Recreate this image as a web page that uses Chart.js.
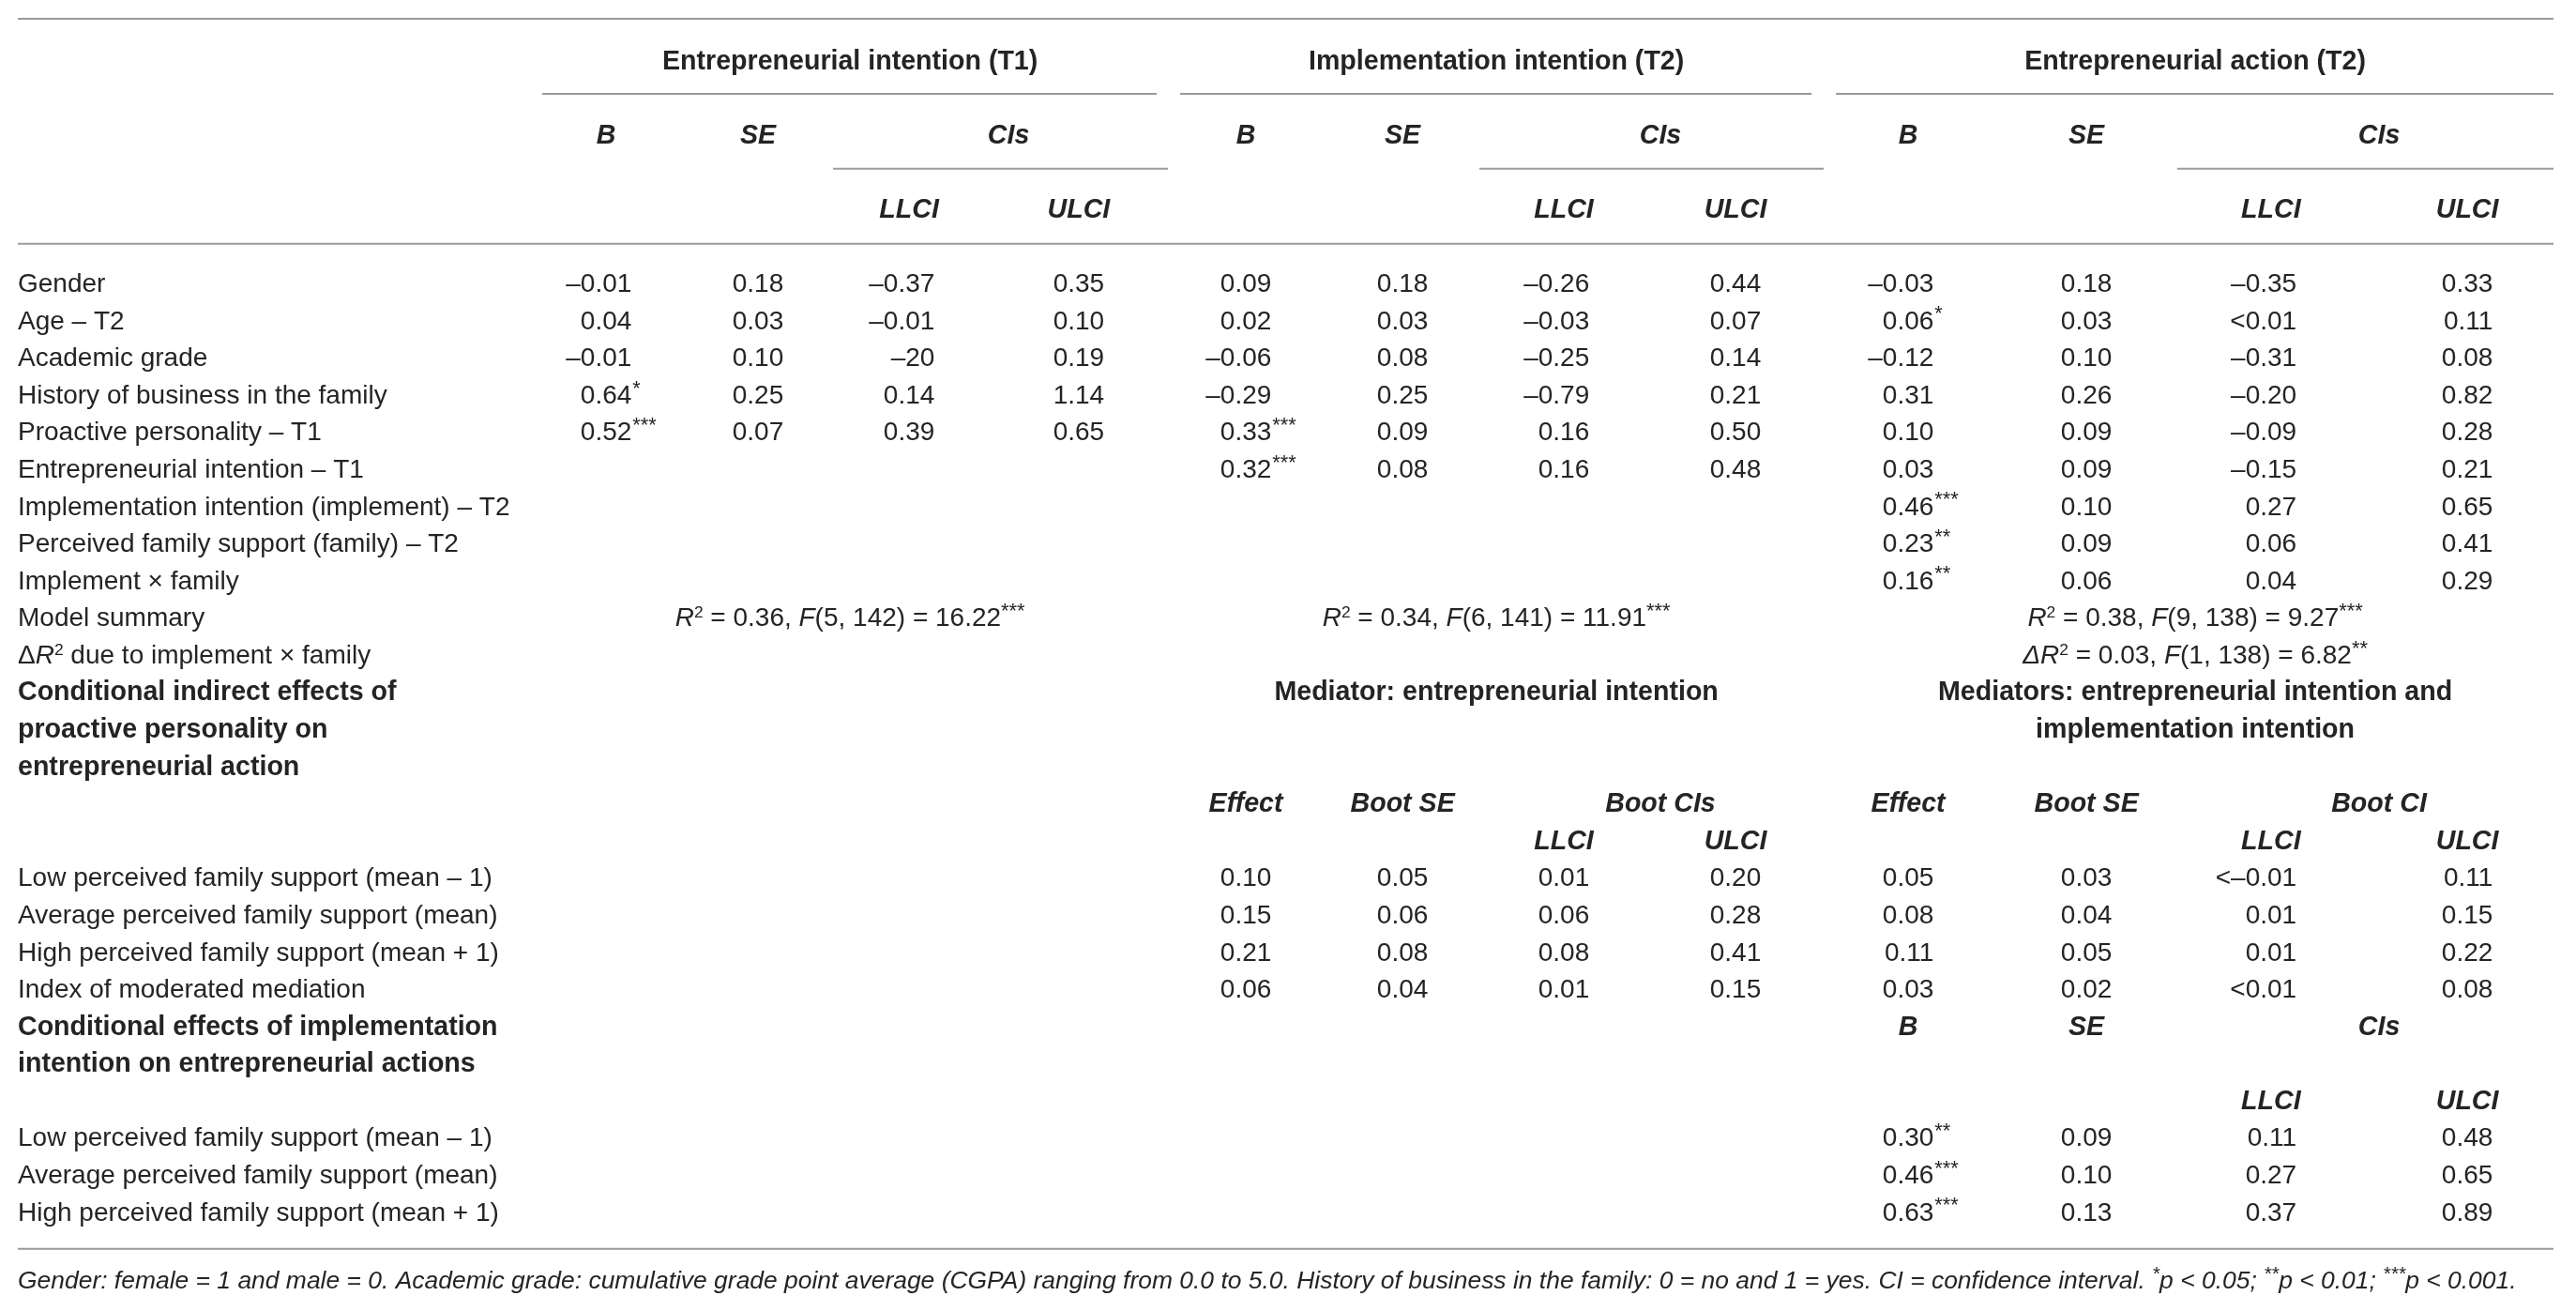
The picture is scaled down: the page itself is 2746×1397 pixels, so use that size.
<!DOCTYPE html>
<html>
<head>
<meta charset="utf-8">
<title>Moderated mediation table</title>
<script src="https://cdn.jsdelivr.net/npm/chart.js@4.4.1/dist/chart.umd.min.js"></script>
<style>
  html, body { margin: 0; padding: 0; background: #fff; }
  #wrap { width: 2746px; height: 1397px; position: relative; }
</style>
</head>
<body>
<div id="wrap"><canvas id="tabela"></canvas></div>
<script>
// ---- table contents ----
const groupTitles = ['Entrepreneurial intention (T1)', 'Implementation intention (T2)', 'Entrepreneurial action (T2)'];
const coefHeads = ['B', 'SE'];
const ciHead = 'CIs';
const ciCols = ['LLCI', 'ULCI'];

const predictors = [
  'Gender', 'Age – T2', 'Academic grade', 'History of business in the family',
  'Proactive personality – T1', 'Entrepreneurial intention – T1',
  'Implementation intention (implement) – T2', 'Perceived family support (family) – T2',
  'Implement × family', 'Model summary', 'Δ_R_^2^ due to implement × family'
];

const intentB  = ['–0.01', '0.04', '–0.01', '0.64*', '0.52***'];
const intentSE = ['0.18', '0.03', '0.10', '0.25', '0.07'];
const intentLL = ['–0.37', '–0.01', '–20', '0.14', '0.39'];
const intentUL = ['0.35', '0.10', '0.19', '1.14', '0.65'];

const implB  = ['0.09', '0.02', '–0.06', '–0.29', '0.33***', '0.32***'];
const implSE = ['0.18', '0.03', '0.08', '0.25', '0.09', '0.08'];
const implLL = ['–0.26', '–0.03', '–0.25', '–0.79', '0.16', '0.16'];
const implUL = ['0.44', '0.07', '0.14', '0.21', '0.50', '0.48'];

const actB  = ['–0.03', '0.06*', '–0.12', '0.31', '0.10', '0.03', '0.46***', '0.23**', '0.16**'];
const actSE = ['0.18', '0.03', '0.10', '0.26', '0.09', '0.09', '0.10', '0.09', '0.06'];
const actLL = ['–0.35', '<0.01', '–0.31', '–0.20', '–0.09', '–0.15', '0.27', '0.06', '0.04'];
const actUL = ['0.33', '0.11', '0.08', '0.82', '0.28', '0.21', '0.65', '0.41', '0.29'];

const modelSummary = [
  '_R_^2^ = 0.36, _F_(5, 142) = 16.22^***^',
  '_R_^2^ = 0.34, _F_(6, 141) = 11.91^***^',
  '_R_^2^ = 0.38, _F_(9, 138) = 9.27^***^'
];
const deltaR2 = '_ΔR_^2^ = 0.03, _F_(1, 138) = 6.82^**^';

const indirectTitle = ['Conditional indirect effects of', 'proactive personality on', 'entrepreneurial action'];
const mediatorTitles = [
  ['Mediator: entrepreneurial intention'],
  ['Mediators: entrepreneurial intention and', 'implementation intention']
];
const bootHeads = ['Effect', 'Boot SE'];
const bootCiHeads = ['Boot CIs', 'Boot CI'];
const levels = ['Low perceived family support (mean – 1)', 'Average perceived family support (mean)', 'High perceived family support (mean + 1)'];
const indirectRows = levels.concat(['Index of moderated mediation']);

const medEffect = ['0.10', '0.15', '0.21', '0.06'];
const medBootSE = ['0.05', '0.06', '0.08', '0.04'];
const medLL     = ['0.01', '0.06', '0.08', '0.01'];
const medUL     = ['0.20', '0.28', '0.41', '0.15'];

const bothEffect = ['0.05', '0.08', '0.11', '0.03'];
const bothBootSE = ['0.03', '0.04', '0.05', '0.02'];
const bothLL     = ['<–0.01', '0.01', '0.01', '<0.01'];
const bothUL     = ['0.11', '0.15', '0.22', '0.08'];

const condTitle = ['Conditional effects of implementation', 'intention on entrepreneurial actions'];
const condB  = ['0.30**', '0.46***', '0.63***'];
const condSE = ['0.09', '0.10', '0.13'];
const condLL = ['0.11', '0.27', '0.37'];
const condUL = ['0.48', '0.65', '0.89'];

const footnote = 'Gender: female = 1 and male = 0. Academic grade: cumulative grade point average (CGPA) ranging from 0.0 to 5.0. History of business in the family: 0 = no and 1 = yes. CI = confidence interval. ^*^p < 0.05; ^**^p < 0.01; ^***^p < 0.001.';

// ---- layout (x in % of table width, y in row units) ----
const colX = [23.20, 29.19, 35.15, 41.84, 48.43, 54.61, 60.97, 67.74, 74.55, 81.58, 88.86, 96.60];
const groupX = [32.82, 58.31, 85.87];
const ciX = [39.07, 64.78, 93.12];
const spanRules = [[20.68, 44.91], [45.84, 70.74], [71.70, 100]];
const ciRules = [[32.15, 45.36], [57.64, 71.22], [85.16, 100]];
const fullRules = [-1.10, 4.96, 32.02];

const FONT = '"Liberation Sans", Arial, Helvetica, sans-serif';
const FONT_SIZE = 28;
const BOLD_SIZE = 28.6;
const NOTE_SIZE = 26.45;
const STAR_SCALE = 0.78;
const TEXT_COLOR = '#262324';
const RULE_COLOR = '#9a9a9a';

// monta as celulas
const cells = [];
function put(x, y, text, kind) {
  cells.push({ x: x, y: y, text: text, kind: kind });
}
function putColumn(col, firstRow, values) {
  values.forEach((v, i) => put(colX[col], firstRow + i, v, 'num'));
}

groupTitles.forEach((t, g) => {
  put(groupX[g], 0, t, 'head');
  put(colX[4 * g], 2, coefHeads[0], 'sub');
  put(colX[4 * g + 1], 2, coefHeads[1], 'sub');
  put(ciX[g], 2, ciHead, 'sub');
  put(colX[4 * g + 2], 4, ciCols[0], 'sub');
  put(colX[4 * g + 3], 4, ciCols[1], 'sub');
});

predictors.forEach((p, i) => put(0, 6 + i, p, 'label'));
[
  [intentB, intentSE, intentLL, intentUL],
  [implB, implSE, implLL, implUL],
  [actB, actSE, actLL, actUL]
].forEach((cols, g) => cols.forEach((vals, c) => putColumn(4 * g + c, 6, vals)));

modelSummary.forEach((t, g) => put(groupX[g], 15, t, 'rich'));
put(groupX[2], 16, deltaR2, 'rich');

// efeitos indiretos condicionais
indirectTitle.forEach((t, i) => put(0, 17 + i, t, 'bold'));
mediatorTitles.forEach((lines, m) => lines.forEach((t, i) => put(groupX[m + 1], 17 + i, t, 'head')));
[
  [medEffect, medBootSE, medLL, medUL],
  [bothEffect, bothBootSE, bothLL, bothUL]
].forEach((cols, m) => {
  const g = m + 1;
  put(colX[4 * g], 20, bootHeads[0], 'sub');
  put(colX[4 * g + 1], 20, bootHeads[1], 'sub');
  put(ciX[g], 20, bootCiHeads[m], 'sub');
  put(colX[4 * g + 2], 21, ciCols[0], 'sub');
  put(colX[4 * g + 3], 21, ciCols[1], 'sub');
  cols.forEach((vals, c) => putColumn(4 * g + c, 22, vals));
});
indirectRows.forEach((t, i) => put(0, 22 + i, t, 'label'));

// efeitos condicionais
condTitle.forEach((t, i) => put(0, 26 + i, t, 'bold'));
put(colX[8], 26, coefHeads[0], 'sub');
put(colX[9], 26, coefHeads[1], 'sub');
put(ciX[2], 26, ciHead, 'sub');
put(colX[10], 28, ciCols[0], 'sub');
put(colX[11], 28, ciCols[1], 'sub');
levels.forEach((t, i) => put(0, 29 + i, t, 'label'));
[condB, condSE, condLL, condUL].forEach((vals, c) => putColumn(8 + c, 29, vals));

put(0, 32.82, footnote, 'note');

// linhas horizontais da tabela
const rules = [];
fullRules.forEach(y => rules.push([[0, y], [100, y]]));
spanRules.forEach(r => rules.push([[r[0], 0.92], [r[1], 0.92]]));
ciRules.forEach(r => rules.push([[r[0], 2.94], [r[1], 2.94]]));

// ---- texto rico: _italico_ e ^sobrescrito^ ----
function parseRich(text) {
  const segs = [];
  let italic = false, sup = false, buf = '';
  for (const ch of text) {
    if (ch === '_' || ch === '^') {
      if (buf) segs.push({ t: buf, italic: italic, sup: sup });
      buf = '';
      if (ch === '_') italic = !italic; else sup = !sup;
    } else {
      buf += ch;
    }
  }
  if (buf) segs.push({ t: buf, italic: italic, sup: sup });
  return segs;
}

function fontOf(bold, italic, size) {
  return (italic ? 'italic ' : '') + (bold ? 'bold ' : '') + size + 'px ' + FONT;
}

function drawRich(ctx, segs, x, y, align, bold, italic, size) {
  const parts = segs.map(s => {
    const sup = s.sup && /^\*+$/.test(s.t) ? STAR_SCALE : 0.62;
    const sz = s.sup ? size * sup : size;
    const f = fontOf(bold, italic || s.italic, sz);
    ctx.font = f;
    return { t: s.t, f: f, w: ctx.measureText(s.t).width, dy: s.sup ? -size * 0.33 : 0 };
  });
  const total = parts.reduce((a, p) => a + p.w, 0);
  let cx = align === 'center' ? x - total / 2 : (align === 'right' ? x - total : x);
  ctx.textAlign = 'left';
  parts.forEach(p => {
    ctx.font = p.f;
    ctx.fillText(p.t, cx, y + p.dy);
    cx += p.w;
  });
}

const tableText = {
  id: 'tableText',
  afterDatasetsDraw(chart) {
    const ctx = chart.ctx;
    const meta = chart.getDatasetMeta(0);
    const data = chart.data.datasets[0].data;
    ctx.save();
    ctx.fillStyle = TEXT_COLOR;
    ctx.textBaseline = 'alphabetic';
    ctx.font = fontOf(false, false, FONT_SIZE);
    const halfNum = ctx.measureText('0.00').width / 2;
    meta.data.forEach((pt, i) => {
      const c = data[i];
      const size = c.kind === 'note' ? NOTE_SIZE : (c.kind === 'head' || c.kind === 'sub' || c.kind === 'bold') ? BOLD_SIZE : FONT_SIZE;
      const y = pt.y + FONT_SIZE * 0.36;
      if (c.kind === 'num') {
        const m = c.text.match(/^(.*?)(\*+)?$/);
        const right = pt.x + halfNum;
        ctx.font = fontOf(false, false, FONT_SIZE);
        ctx.textAlign = 'right';
        ctx.fillText(m[1], right, y);
        if (m[2]) {
          ctx.font = fontOf(false, false, FONT_SIZE * STAR_SCALE);
          ctx.textAlign = 'left';
          ctx.fillText(m[2], right + 1, y - FONT_SIZE * 0.33);
        }
      } else if (c.kind === 'head') {
        drawRich(ctx, parseRich(c.text), pt.x, y, 'center', true, false, size);
      } else if (c.kind === 'sub') {
        drawRich(ctx, parseRich(c.text), pt.x, y, 'center', true, true, size);
      } else if (c.kind === 'rich') {
        drawRich(ctx, parseRich(c.text), pt.x, y, 'center', false, false, size);
      } else if (c.kind === 'bold') {
        drawRich(ctx, parseRich(c.text), pt.x, y, 'left', true, false, size);
      } else if (c.kind === 'note') {
        drawRich(ctx, parseRich(c.text), pt.x, y, 'left', false, true, size);
      } else {
        drawRich(ctx, parseRich(c.text), pt.x, y, 'left', false, false, size);
      }
    });
    ctx.restore();
  }
};

const datasets = [{
  label: 'cells',
  data: cells,
  pointRadius: 0,
  pointHoverRadius: 0,
  showLine: false
}];
rules.forEach(r => datasets.push({
  label: 'rule',
  data: r.map(p => ({ x: p[0], y: p[1] })),
  showLine: true,
  borderColor: RULE_COLOR,
  borderWidth: 2,
  pointRadius: 0,
  clip: false
}));

new Chart(document.getElementById('tabela'), {
  type: 'scatter',
  data: { datasets: datasets },
  options: {
    responsive: true,
    maintainAspectRatio: false,
    animation: false,
    devicePixelRatio: 1,
    events: [],
    layout: { padding: { left: 19, right: 24, top: 4.13, bottom: 7.57 } },
    scales: {
      x: { type: 'linear', min: 0, max: 100, display: false },
      y: { type: 'linear', min: -1.5, max: 33.5, reverse: true, display: false }
    },
    plugins: {
      legend: { display: false },
      tooltip: { enabled: false }
    }
  },
  plugins: [tableText]
});
</script>
</body>
</html>
